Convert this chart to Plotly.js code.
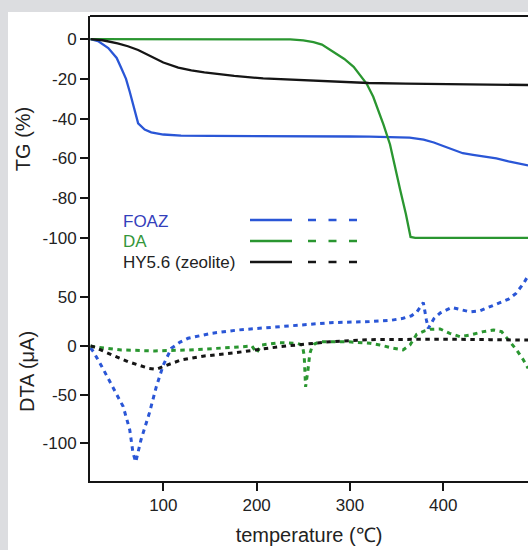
<!DOCTYPE html>
<html>
<head>
<meta charset="utf-8">
<script src="https://cdn.plot.ly/plotly-3.0.1.min.js"></script>
<style>
  html, body { margin: 0; padding: 0; background: #dcdde0; overflow: hidden; }
  #chart { position: absolute; left: 8px; top: 12px; width: 520px; height: 538px; background: #ffffff; }
</style>
</head>
<body>
<div id="chart"></div>
<script>
// ---------- DATA ----------
// TG (%) curves
const foazTgT  = [22, 30, 41, 50, 55, 60, 64, 67.5, 70, 73, 80, 87, 100, 119, 150, 200, 250, 300, 321, 345, 364, 379, 390, 400, 410, 421, 432, 443, 457, 470, 480, 491];
const foazTg   = [0, -1, -4.5, -9.5, -14.7, -20, -26.5, -33, -38, -42.4, -45.5, -46.9, -48, -48.6, -48.7, -48.7, -48.8, -49, -49.1, -49.3, -49.6, -50.6, -52, -53.8, -55.6, -57.4, -58.2, -59, -60, -61.5, -62.3, -63.5];

const daTgT    = [22, 100, 200, 236, 250, 261, 270, 284, 294, 304, 311, 318, 325, 332, 336, 343, 349, 354, 360, 365, 370, 430, 491];
const daTg     = [0, 0, 0, -0.2, -0.7, -1.5, -2.8, -7, -10, -14, -18, -22.5, -29, -37.5, -43, -53, -66, -76, -88, -99.5, -100, -100, -100];

const hyTgT    = [22, 35, 51, 62, 73, 82, 91, 100, 116, 130, 144, 160, 176, 207, 243, 279, 320, 360, 400, 429, 460, 491];
const hyTg     = [0, -0.6, -2.2, -3.6, -5.5, -7.6, -9.7, -11.8, -14.4, -15.8, -16.8, -17.8, -18.5, -19.8, -20.6, -21.4, -22.1, -22.4, -22.6, -22.8, -23, -23.1];

// DTA (uA) curves
const foazDtaT = [22, 25, 34, 46, 57, 64, 67.5, 70.5, 76, 85, 92.5, 100, 108.6, 118, 126.5, 151.5, 180, 225, 279, 321, 345, 357, 366, 372, 378.7, 382, 384, 390, 397, 409, 419, 429, 439, 450, 461, 470, 478, 486, 491];
const foazDta  = [-2, -5.8, -21, -41.8, -62.3, -86, -110, -119, -96.5, -69, -41.8, -19.5, -2.4, 4, 7.9, 13, 16.4, 19.8, 23.9, 25, 26.5, 28.4, 31, 35.2, 44.5, 26.7, 18, 28, 34, 39.5, 37, 35, 36, 40, 44, 48, 54, 64, 72];

const daDtaT   = [22, 25, 55, 91, 126.5, 150, 176.5, 195, 200, 205, 225, 243, 249, 251, 252.5, 255, 257, 259, 262, 268, 279, 296.5, 321.5, 332, 345, 357, 364.4, 371.6, 380, 386, 396.6, 407, 418, 428.7, 443, 453.7, 462.6, 471.6, 478.7, 486, 491];
const daDta    = [0, -0.7, -4.1, -5.1, -4.1, -3, -1.4, 0, -7, 1, 3.4, 2.7, 1, -10, -42, -25, -8, -2, 2, 4.4, 4.4, 4.4, 2.7, 1, -2, -4.1, 1, 12, 15.5, 17.1, 17.5, 13, 9.6, 11.3, 14.7, 16.4, 14.7, 4.4, -4.1, -14.4, -23];

const hyDtaT   = [22, 25, 41, 62, 84, 92.5, 101.5, 119, 144, 176.5, 225, 279, 321.5, 360, 400, 450, 491];
const hyDta    = [0, -0.7, -7.5, -16.1, -22.9, -24, -20.5, -14.4, -10.3, -7, -0.7, 4.4, 6.5, 7, 7, 6.5, 6];

// ticks
const xTicks      = [100, 200, 300, 400];
const xTickText   = ['100', '200', '300', '400'];
const tgTicks     = [0, -20, -40, -60, -80, -100];
const tgTickText  = ['0', '-20', '-40', '-60', '-80', '-100'];
const dtaTicks    = [50, 0, -50, -100];
const dtaTickText = ['50', '0', '-50', '-100'];

// legend
const seriesNames = ['FOAZ', 'DA', 'HY5.6 (zeolite)'];

// ---------- STYLE ----------
const BLUE = '#2a56d6', GREEN = '#2a9630', BLACK = '#151515';
const TXT_COLORS = ['#3340bb', '#34963a', '#222222'];
const LINE_COLORS = [BLUE, GREEN, BLACK];
const FONT = 'Arial, "Liberation Sans", sans-serif';
const DOT = '4.5px,4.5px';

const traces = [
  {x: foazTgT, y: foazTg, yaxis: 'y', mode: 'lines', line: {color: BLUE, width: 2.3}},
  {x: daTgT, y: daTg, yaxis: 'y', mode: 'lines', line: {color: GREEN, width: 2.3}},
  {x: hyTgT, y: hyTg, yaxis: 'y', mode: 'lines', line: {color: BLACK, width: 2.3}},
  {x: foazDtaT, y: foazDta, yaxis: 'y2', mode: 'lines', line: {color: BLUE, width: 3, dash: DOT}},
  {x: daDtaT, y: daDta, yaxis: 'y2', mode: 'lines', line: {color: GREEN, width: 3, dash: DOT}},
  {x: hyDtaT, y: hyDta, yaxis: 'y2', mode: 'lines', line: {color: BLACK, width: 3, dash: DOT}}
];

// page-pixel -> paper helpers (plot area: x 90..528, y 16..481 on page)
const PL = 90, PR = 528, PT = 16, PB = 481;
const px = v => (v - PL) / (PR - PL);
const py = v => (PB - v) / (PB - PT);

const annotations = [];
const shapes = [
  {type: 'line', xref: 'paper', yref: 'paper', x0: 0, x1: 1, y0: 1, y1: 1, line: {color: BLACK, width: 2}}
];
const legTextY = [221, 242, 262];
const legLineY = [220, 241, 262];
seriesNames.forEach((n, i) => {
  annotations.push({xref: 'paper', yref: 'paper', x: px(121), y: py(legTextY[i]), xanchor: 'left', yanchor: 'middle',
    text: n, showarrow: false, font: {family: FONT, size: 17, color: TXT_COLORS[i]}});
  shapes.push({type: 'line', xref: 'paper', yref: 'paper', x0: px(250), x1: px(292), y0: py(legLineY[i]), y1: py(legLineY[i]),
    line: {color: LINE_COLORS[i], width: 2.5}});
  shapes.push({type: 'line', xref: 'paper', yref: 'paper', x0: px(308), x1: px(357), y0: py(legLineY[i]), y1: py(legLineY[i]),
    line: {color: LINE_COLORS[i], width: 2.5, dash: '8px,12.5px'}});
});

const axisCommon = {
  showgrid: false, zeroline: false, showline: true, linecolor: BLACK, linewidth: 2,
  ticks: 'outside', ticklen: 8, tickwidth: 2, tickcolor: BLACK,
  tickfont: {family: FONT, size: 17, color: '#222'}, tickmode: 'array'
};

const layout = {
  width: 520, height: 538,
  margin: {l: 82, r: 0, t: 4, b: 69},
  paper_bgcolor: '#ffffff', plot_bgcolor: '#ffffff',
  showlegend: false,
  font: {family: FONT, color: '#222'},
  xaxis: Object.assign({}, axisCommon, {
    range: [21.4, 490.9], anchor: 'y2', tickvals: xTicks, ticktext: xTickText,
    title: {text: 'temperature (℃)', font: {family: FONT, size: 20, color: '#222'}, standoff: 14}
  }),
  yaxis: Object.assign({}, axisCommon, {
    domain: [0.471, 1], range: [-112.1, 11.6], anchor: 'x', tickvals: tgTicks, ticktext: tgTickText,
    title: {text: 'TG (%)', font: {family: FONT, size: 20, color: '#222'}, standoff: 7}
  }),
  yaxis2: Object.assign({}, axisCommon, {
    domain: [0, 0.471], range: [-138.6, 86.2], anchor: 'x', tickvals: dtaTicks, ticktext: dtaTickText,
    title: {text: 'DTA (μA)', font: {family: FONT, size: 20, color: '#222'}, standoff: 3}
  }),
  annotations: annotations,
  shapes: shapes
};

Plotly.newPlot('chart', traces, layout, {displayModeBar: false, staticPlot: true});
</script>
</body>
</html>
